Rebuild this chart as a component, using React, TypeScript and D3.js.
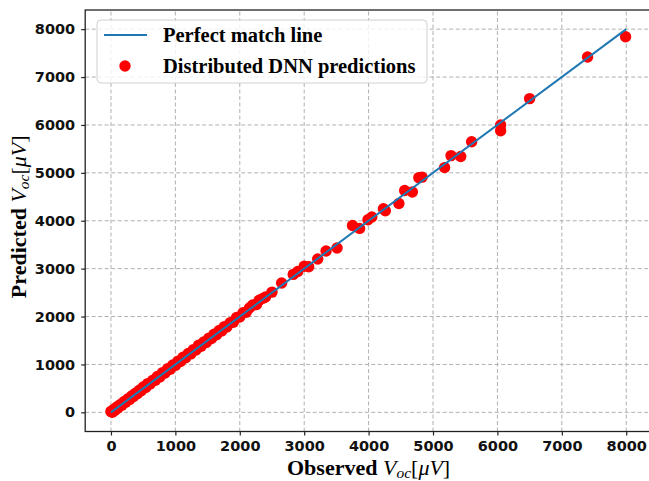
import { useEffect, useRef } from "react";
import * as d3 from "d3";

// observed vs predicted V_oc (µV)
const OBSERVED = [
  0, 20, 40, 60, 90, 110, 140, 170, 200, 230, 260, 290, 320, 350, 380, 410, 440, 470,
  500, 540, 570, 610, 650, 690, 720, 760, 800, 840, 880, 920, 960, 1000, 1040, 1080,
  1120, 1160, 1200, 1240, 1280, 1320, 1360, 1400, 1440, 1480, 1520, 1560, 1600, 1640,
  1680, 1720, 1760, 1800, 1850, 1900, 1950, 2000, 2050, 2100, 2150, 2200, 2260, 2300,
  2360, 2400, 2500, 2650, 2830, 2900, 3000, 3070, 3210, 3340, 3510, 3750, 3860, 3990,
  4050, 4230, 4260, 4470, 4560, 4680, 4780, 4830, 5180, 5280, 5430, 5600, 6050, 6050,
  6500, 7400, 7990,
];
const PREDICTED = [
  20, 0, 60, 40, 110, 90, 160, 150, 220, 210, 280, 270, 340, 330, 400, 390, 460, 450,
  530, 520, 600, 590, 670, 670, 750, 740, 830, 820, 910, 900, 990, 980, 1070, 1060,
  1150, 1140, 1230, 1220, 1310, 1300, 1400, 1380, 1470, 1460, 1550, 1540, 1630, 1620,
  1710, 1700, 1790, 1780, 1870, 1880, 1980, 1990, 2080, 2090, 2180, 2240, 2250, 2340,
  2380, 2410, 2510, 2700, 2880, 2940, 3050, 3040, 3200, 3370, 3430, 3900, 3840, 4020,
  4080, 4250, 4210, 4360, 4630, 4600, 4900, 4910, 5110, 5360, 5340, 5650, 6000, 5880,
  6550, 7420, 7840,
];
const MATCH_LINE = [0, 8000];
const X_TICKS = [0, 1000, 2000, 3000, 4000, 5000, 6000, 7000, 8000];
const Y_TICKS = [0, 1000, 2000, 3000, 4000, 5000, 6000, 7000, 8000];

const W = 649;
const H = 481;

export default function App() {
  const svgRef = useRef<SVGSVGElement>(null);

  useEffect(() => {
    document.body.style.margin = "0";
    const svg = d3.select(svgRef.current);
    svg.selectAll("*").remove();

    const x = d3.scaleLinear().domain([-400, 8400]).range([85.2, 652]);
    const y = d3.scaleLinear().domain([-400, 8400]).range([431.5, 10]);
    const [x0, x1] = x.range();
    const [y0, y1] = y.range();

    svg.append("rect").attr("width", W).attr("height", H).attr("fill", "#fff");

    // grid
    const grid = svg.append("g").attr("stroke", "#b0b0b0").attr("stroke-width", 1).attr("stroke-dasharray", "4,2.5");
    grid.selectAll(".gx").data(X_TICKS).enter().append("line")
      .attr("x1", (d) => x(d)).attr("x2", (d) => x(d)).attr("y1", y0).attr("y2", y1);
    grid.selectAll(".gy").data(Y_TICKS).enter().append("line")
      .attr("x1", x0).attr("x2", x1).attr("y1", (d) => y(d)).attr("y2", (d) => y(d));

    const pts = OBSERVED.map((o, i) => ({ o, p: PREDICTED[i] }));
    svg.append("g").selectAll("circle").data(pts).enter().append("circle")
      .attr("cx", (d) => x(d.o)).attr("cy", (d) => y(d.p)).attr("r", 5.7).attr("fill", "#ff0000");

    svg.append("path")
      .datum(MATCH_LINE)
      .attr("fill", "none")
      .attr("stroke", "#1f77b4")
      .attr("stroke-width", 2)
      .attr("d", d3.line<number>().x((d) => x(d)).y((d) => y(d)));

    // axes
    const ax = svg.append("g").attr("transform", `translate(0,${y0})`)
      .call(d3.axisBottom(x).tickValues(X_TICKS).tickSize(4).tickPadding(5).tickFormat(d3.format("d")));
    const ay = svg.append("g").attr("transform", `translate(${x0},0)`)
      .call(d3.axisLeft(y).tickValues(Y_TICKS).tickSize(4).tickPadding(6).tickFormat(d3.format("d")));
    [ax, ay].forEach((g) => {
      g.select(".domain").remove();
      g.selectAll("line").attr("stroke", "#222").attr("stroke-width", 1.2);
      g.selectAll("text")
        .attr("fill", "#111")
        .style("font-family", "DejaVu Sans")
        .style("font-weight", "bold")
        .style("font-size", "14.5px");
    });

    // spines
    svg.append("rect")
      .attr("x", x0).attr("y", y1).attr("width", x1 - x0).attr("height", y0 - y1)
      .attr("fill", "none").attr("stroke", "#222").attr("stroke-width", 1.3);

    // legend
    const lg = svg.append("g");
    lg.append("rect")
      .attr("x", 97).attr("y", 20).attr("width", 330).attr("height", 63).attr("rx", 4)
      .attr("fill", "#fff").attr("fill-opacity", 0.8).attr("stroke", "#d0d0d0");
    lg.append("line").attr("x1", 104).attr("x2", 147).attr("y1", 35).attr("y2", 35)
      .attr("stroke", "#1f77b4").attr("stroke-width", 2);
    lg.append("circle").attr("cx", 125).attr("cy", 66).attr("r", 5.7).attr("fill", "#ff0000");
    const legendText = (ty: number, s: string) =>
      lg.append("text").attr("x", 163).attr("y", ty).text(s)
        .style("font-family", "Liberation Serif").style("font-weight", "bold").style("font-size", "20.5px");
    legendText(42, "Perfect match line");
    legendText(73, "Distributed DNN predictions");

    // axis titles
    const title = (t: d3.Selection<SVGTextElement, unknown, null, undefined>, name: string) => {
      t.style("font-family", "Liberation Serif").style("font-size", "22px").attr("text-anchor", "middle");
      t.append("tspan").style("font-weight", "bold").text(name + " ");
      t.append("tspan").style("font-style", "italic").text("V");
      t.append("tspan").style("font-style", "italic").style("font-size", "15.5px").attr("dy", 3).text("oc");
      t.append("tspan").attr("dy", -3).text("[");
      t.append("tspan").style("font-style", "italic").text("μV");
      t.append("tspan").text("]");
    };
    title(svg.append("text").attr("x", (x0 + x1) / 2).attr("y", 475), "Observed");
    title(
      svg.append("text").attr("transform", `translate(26,${(y0 + y1) / 2 - 4}) rotate(-90)`),
      "Predicted"
    );
  }, []);

  return (
    <svg
      ref={svgRef}
      width={W}
      height={H}
      style={{ position: "absolute", left: 0, top: 0, display: "block" }}
    />
  );
}
